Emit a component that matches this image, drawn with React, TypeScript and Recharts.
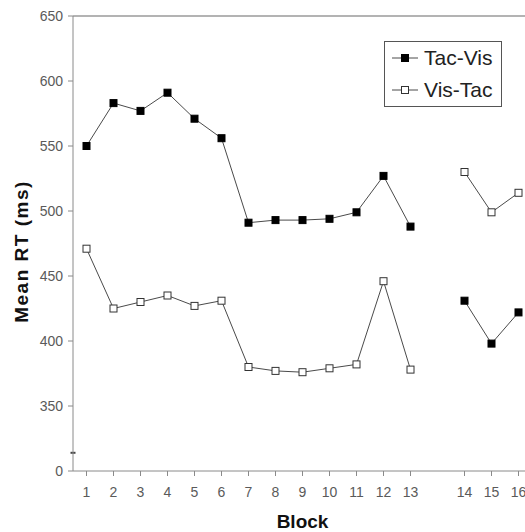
import React from 'react';
import { LineChart, Line, XAxis, YAxis, ReferenceLine } from 'recharts';

// Block labels; the empty one is the gap between block 13 and 14
const blocks = ['1', '2', '3', '4', '5', '6', '7', '8', '9', '10', '11', '12', '13', '', '14', '15', '16'];
const tacVis = [550, 583, 577, 591, 571, 556, 491, 493, 493, 494, 499, 527, 488, null, 431, 398, 422];
const visTac = [471, 425, 430, 435, 427, 431, 380, 377, 376, 379, 382, 446, 378, null, 530, 499, 514];
const yTicks = [300, 350, 400, 450, 500, 550, 600, 650];
const xTicks = blocks.filter((b) => b !== '');

const data = blocks.map((block, i) => ({ block, tacVis: tacVis[i], visTac: visTac[i] }));

const LINE = '#4a4a4a';
const AXIS = '#8a8a8a';
const TICK = '#5a5a5a';
const FONT = '"Liberation Sans", Arial, sans-serif';

const square = (filled: boolean) => (p: any) => {
  if (p.cx == null || p.cy == null || p.value == null) return <g key={p.key ?? p.index} />;
  return (
    <rect
      key={p.key ?? p.index}
      x={p.cx - 3.5}
      y={p.cy - 3.5}
      width={7}
      height={7}
      fill={filled ? '#000' : '#fff'}
      stroke={filled ? '#000' : '#333'}
      strokeWidth={1}
    />
  );
};

function LegendBox() {
  const row = (label: string, filled: boolean) => (
    <div style={{ display: 'flex', alignItems: 'center', height: 32 }}>
      <svg width={26} height={10} style={{ marginLeft: 7, marginRight: 6 }}>
        <line x1={0} x2={26} y1={5} y2={5} stroke={LINE} strokeWidth={1} />
        <rect x={9.5} y={1.5} width={7} height={7} fill={filled ? '#000' : '#fff'} stroke={filled ? '#000' : '#333'} />
      </svg>
      <span style={{ fontSize: 21, color: '#222', fontFamily: FONT }}>{label}</span>
    </div>
  );
  return (
    <div
      style={{
        position: 'absolute',
        left: 384,
        top: 41,
        border: '1px solid #555',
        width: 118,
        height: 66,
        boxSizing: 'border-box',
        background: '#fff',
      }}
    >
      {row('Tac-Vis', true)}
      {row('Vis-Tac', false)}
    </div>
  );
}

export default function App() {
  return (
    <div style={{ position: 'fixed', left: 0, top: 0, width: 525, height: 532, overflow: 'hidden', background: '#fff' }}>
      <LineChart width={545} height={532} data={data} margin={{ top: 16, right: 13, bottom: 0, left: 0 }}>
        <XAxis
          dataKey="block"
          type="category"
          scale="band"
          ticks={xTicks}
          interval={0}
          height={61}
          tickSize={5}
          tickMargin={11}
          stroke={AXIS}
          tick={{ fill: TICK, fontSize: 14, fontFamily: FONT }}
          label={{
            content: (p: any) => (
              <text
                x={p.viewBox.x + p.viewBox.width / 2}
                y={p.viewBox.y + p.viewBox.height - 4}
                textAnchor="middle"
                fontSize={19}
                fontWeight="bold"
                fontFamily={FONT}
                fill="#111"
              >
                Block
              </text>
            ),
          }}
        />
        <YAxis
          type="number"
          domain={[300, 650]}
          ticks={yTicks}
          allowDataOverflow
          width={73}
          tickSize={5}
          tickMargin={5}
          stroke={AXIS}
          tick={{ fill: TICK, fontSize: 14, fontFamily: FONT }}
          tickFormatter={(v: number) => (v === 300 ? '0' : String(v))}
          label={{
            content: (p: any) => {
              const cx = 21;
              const cy = p.viewBox.y + p.viewBox.height / 2 + 8;
              return (
                <text
                  x={cx}
                  y={cy}
                  transform={`rotate(-90 ${cx} ${cy})`}
                  textAnchor="middle"
                  dominantBaseline="central"
                  fontSize={19}
                  fontWeight="bold"
                  letterSpacing={1.5}
                  fontFamily={FONT}
                  fill="#111"
                >
                  Mean RT (ms)
                </text>
              );
            },
          }}
        />
        <ReferenceLine y={650} stroke="#9a9a9a" strokeWidth={1.5} />
        {/* axis break mark */}
        <ReferenceLine
          y={314}
          shape={(p: any) => (
            <line x1={p.x1 - 2.5} x2={p.x1 + 2.5} y1={p.y1} y2={p.y1} stroke="#444" strokeWidth={2} />
          )}
        />
        <Line
          dataKey="tacVis"
          name="Tac-Vis"
          stroke={LINE}
          strokeWidth={1}
          dot={square(true)}
          activeDot={false}
          isAnimationActive={false}
        />
        <Line
          dataKey="visTac"
          name="Vis-Tac"
          stroke={LINE}
          strokeWidth={1}
          dot={square(false)}
          activeDot={false}
          isAnimationActive={false}
        />
      </LineChart>
      <LegendBox />
    </div>
  );
}
